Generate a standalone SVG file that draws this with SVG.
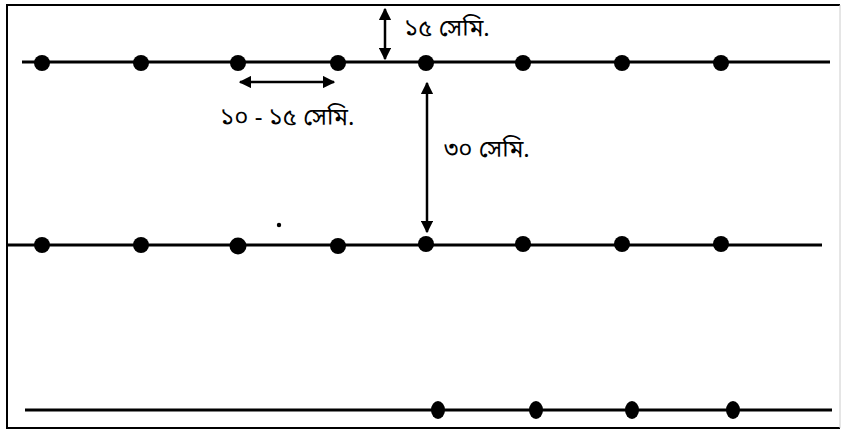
<svg xmlns="http://www.w3.org/2000/svg" width="844" height="433" viewBox="0 0 844 433">
<style>
.row{stroke:#000;stroke-width:3;fill:none}
.dot{fill:#000}
.dim{stroke:#000;stroke-width:2.5;fill:none}
.lbl{font-family:"Noto Sans Bengali","Noto Sans","Liberation Sans",sans-serif;font-size:24px;fill:#000}
</style>
<defs>
<marker id="ah" viewBox="0 0 10 10" refX="9" refY="5" markerWidth="5" markerHeight="5" orient="auto-start-reverse">
<path d="M0,0 L10,5 L0,10 z" fill="#000"/>
</marker>
</defs>
<rect width="844" height="433" fill="#fff"/>
<g id="frame">
<path d="M840,5 H7 V428 H840" stroke="#000" stroke-width="2" fill="none"/>
<path d="M840,5 V428" stroke="#ccc" stroke-width="1" fill="none"/>
</g>
<g id="row1">
<line class="row" x1="22" y1="62" x2="830" y2="62"/>
<circle class="dot" cx="42" cy="63" r="8"/><circle class="dot" cx="141" cy="63" r="8"/>
<circle class="dot" cx="238" cy="63" r="8"/><circle class="dot" cx="338" cy="63" r="8"/>
<circle class="dot" cx="426" cy="63" r="8"/><circle class="dot" cx="523" cy="63" r="8"/>
<circle class="dot" cx="622" cy="63" r="8"/><circle class="dot" cx="721" cy="63" r="8"/>
</g>
<g id="row2">
<line class="row" x1="8" y1="245" x2="822" y2="245"/>
<circle class="dot" cx="42" cy="245" r="8"/><circle class="dot" cx="141" cy="245" r="8"/>
<circle class="dot" cx="238" cy="246" r="8.5"/><circle class="dot" cx="338" cy="246" r="8"/>
<circle class="dot" cx="426" cy="244" r="8"/><circle class="dot" cx="523" cy="244" r="8"/>
<circle class="dot" cx="622" cy="244" r="8"/><circle class="dot" cx="721" cy="244" r="8"/>
<circle class="dot" cx="279" cy="225" r="2.2"/>
</g>
<g id="row3">
<line class="row" x1="25" y1="410" x2="832" y2="410"/>
<ellipse class="dot" cx="438" cy="410" rx="7" ry="9"/><ellipse class="dot" cx="536" cy="410" rx="7" ry="9"/>
<ellipse class="dot" cx="632" cy="410" rx="7" ry="9"/><ellipse class="dot" cx="733" cy="410" rx="7" ry="9"/>
</g>
<g id="connectors">
<line class="dim" x1="385" y1="9" x2="385" y2="59" marker-start="url(#ah)" marker-end="url(#ah)"/>
<line class="dim" x1="240" y1="82" x2="334" y2="82" marker-start="url(#ah)" marker-end="url(#ah)"/>
<line class="dim" x1="427" y1="83" x2="427" y2="232" marker-start="url(#ah)" marker-end="url(#ah)"/>
</g>
<g id="labels">
<text class="lbl" x="404" y="36">১৫ সেমি.</text>
<text class="lbl" x="220" y="125">১০ - ১৫ সেমি.</text>
<text class="lbl" x="444" y="157">৩০ সেমি.</text>
</g>
</svg>
